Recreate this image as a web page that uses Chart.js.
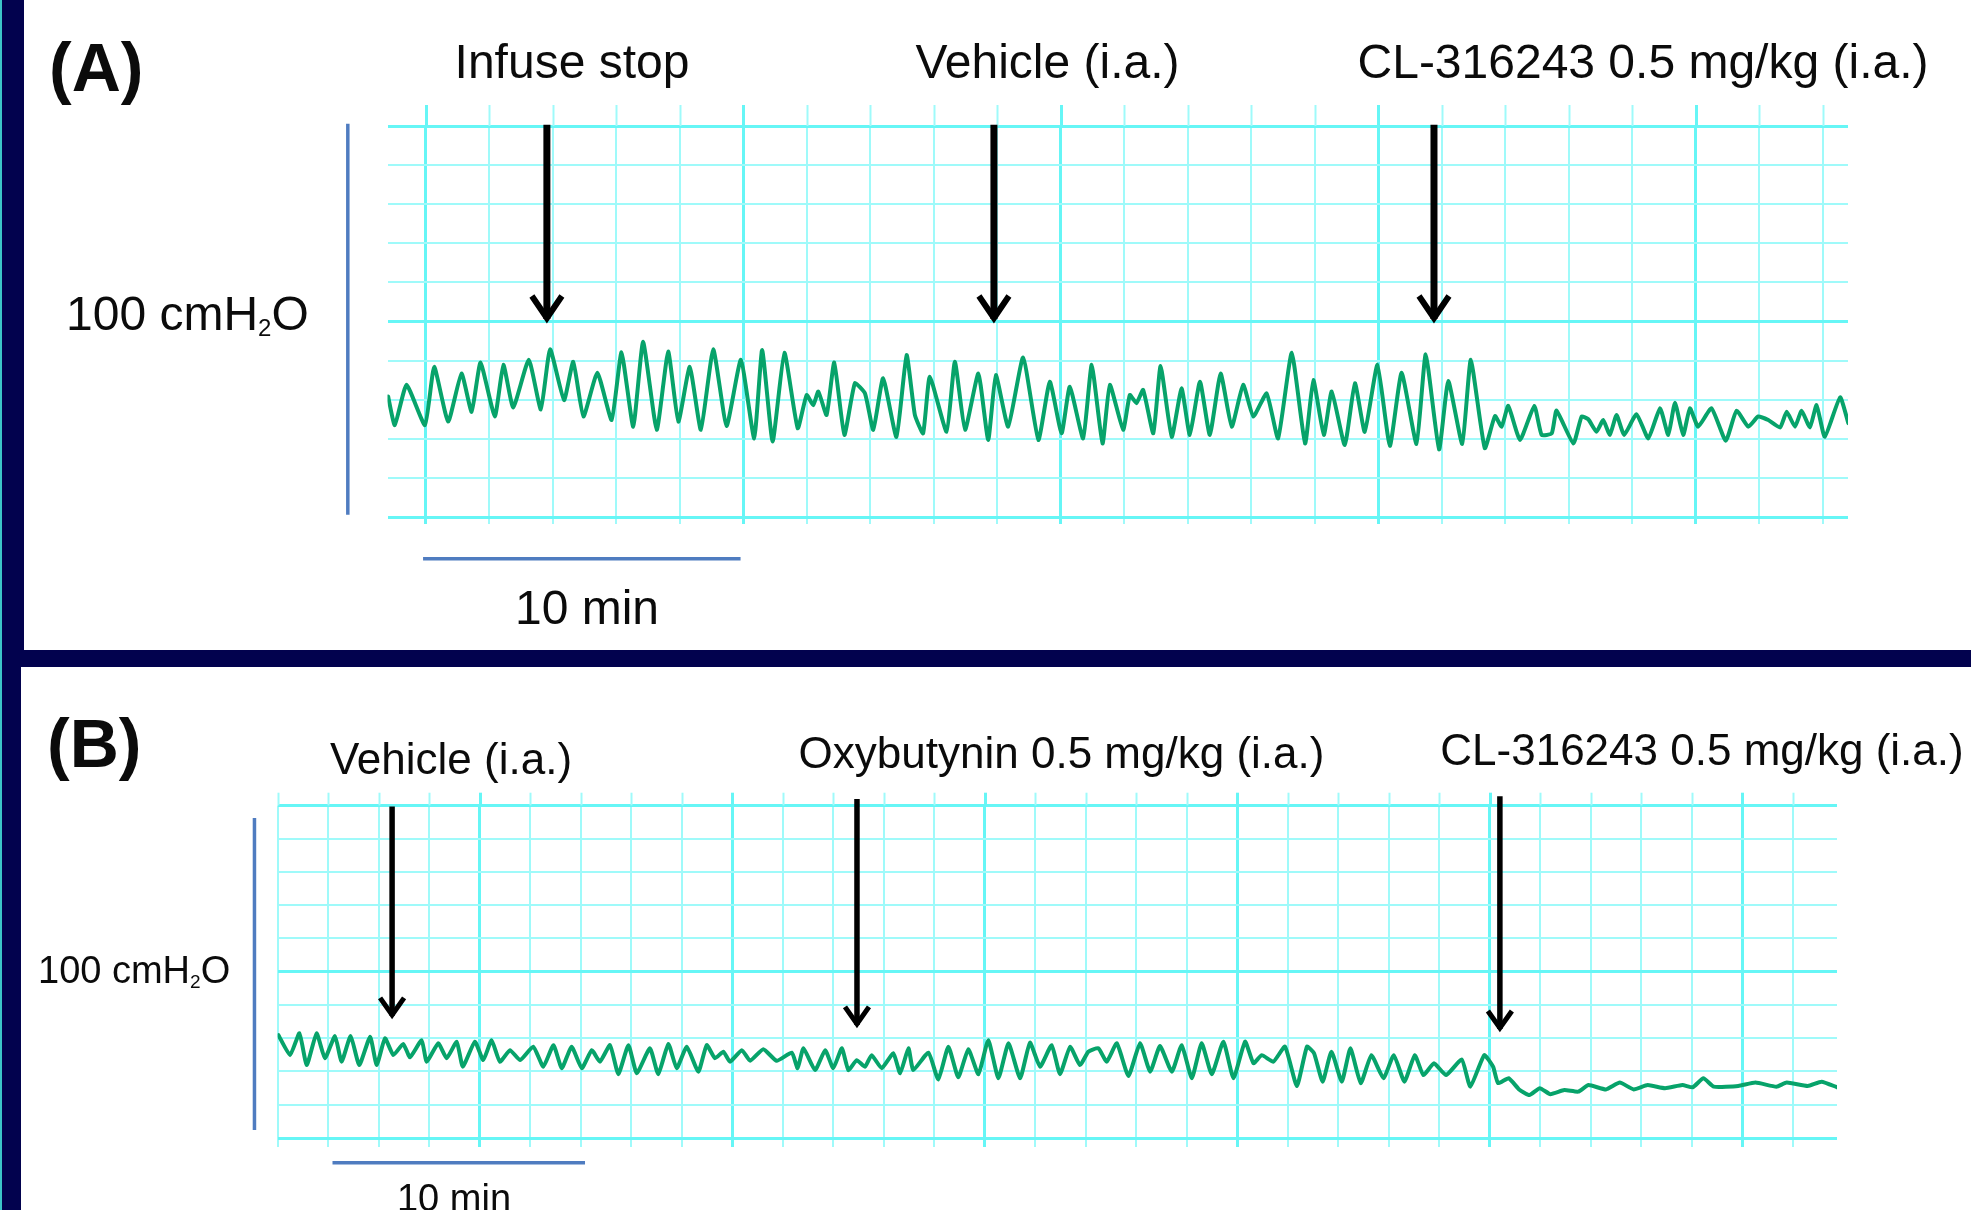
<!DOCTYPE html>
<html><head><meta charset="utf-8">
<script src="https://cdn.jsdelivr.net/npm/chart.js@4.4.1/dist/chart.umd.min.js"></script>
<style>
html,body{margin:0;padding:0;}
body{width:1971px;height:1210px;overflow:hidden;background:#02024e;position:relative;font-family:"Liberation Sans",Arial,sans-serif;color:#0b0b0b;}
.panel{position:absolute;background:#fff;}
canvas{position:absolute;left:0;}
.t{position:absolute;white-space:nowrap;line-height:1;}
.sub{font-size:0.5em;position:relative;top:0.25em;}
</style></head><body>
<div style="position:absolute;left:0;top:0;width:2px;height:1210px;background:#3cc4c8"></div>
<div class="panel" style="left:24px;top:0;width:1947px;height:650px"></div>
<div class="panel" style="left:21px;top:667px;width:1950px;height:543px"></div>
<canvas id="cA" width="1971" height="650" style="top:0"></canvas>
<canvas id="cB" width="1971" height="543" style="top:667px"></canvas>
<script>
// ---------- DATA (minutes, cmH2O) ----------
const timeA = [-1.19,-0.98,-0.61,-0.03,0.26,0.70,1.12,1.44,1.72,2.17,
 2.44,2.75,3.24,3.62,3.91,4.35,4.64,4.96,5.40,5.85,
 6.16,6.53,6.84,7.27,7.63,7.95,8.31,8.66,9.05,9.47,
 9.92,10.34,10.59,10.92,11.29,11.71,11.99,12.20,12.36,12.62,
 12.86,13.18,13.51,13.83,14.09,14.40,14.82,15.14,15.40,15.66,
 15.87,16.40,16.66,16.98,17.40,17.71,17.95,18.34,18.81,19.29,
 19.65,20.02,20.28,20.70,20.97,21.31,21.54,21.96,22.17,22.38,
 22.59,22.91,23.14,23.49,23.80,24.06,24.38,24.69,25.03,25.38,
 25.74,26.06,26.48,26.84,27.27,27.69,27.95,28.28,28.53,28.94,
 29.26,29.57,29.97,30.36,30.73,31.20,31.49,31.91,32.20,32.64,
 32.91,33.35,33.67,33.88,34.09,34.46,34.91,35.14,35.46,35.61,
 36.14,36.40,36.61,36.87,37.08,37.29,37.50,37.74,38.13,38.50,
 38.87,39.13,39.34,39.60,39.81,40.07,40.49,40.94,41.28,41.65,
 41.96,42.28,42.65,42.86,43.12,43.33,43.59,43.80,44.06,44.54,
 44.80];
const pressureA = [30.8,23.5,33.8,23.5,38.4,24.4,36.7,26.9,39.5,25.7,
 38.9,28.0,40.2,27.5,42.9,29.9,39.7,25.7,36.9,24.8,
 42.1,23.1,44.8,22.3,42.3,24.4,38.4,22.3,42.9,23.3,
 40.2,20.1,42.7,19.3,42.0,22.7,31.2,28.6,32.1,26.1,
 39.5,21.0,34.2,31.6,22.3,35.5,20.5,41.4,26.1,21.4,
 35.9,21.8,39.7,22.3,36.7,19.7,36.3,23.1,40.8,19.7,
 34.6,21.4,33.3,20.1,38.9,18.8,33.8,22.3,31.2,29.1,
 32.5,21.4,38.6,20.5,32.9,21.0,34.6,21.0,36.7,23.1,
 33.8,25.7,31.6,20.1,42.0,18.8,35.0,21.0,32.1,18.4,
 34.2,21.8,38.9,18.2,36.9,18.7,41.6,17.3,34.8,18.7,
 40.2,17.6,25.8,23.1,28.4,19.7,28.4,21.0,21.4,27.2,
 18.8,25.7,25.0,21.8,24.8,21.0,26.1,21.0,26.3,20.1,
 27.8,21.0,29.2,21.0,27.8,23.1,27.8,19.5,27.2,23.1,
 25.7,24.8,22.9,26.9,23.1,27.2,22.9,28.6,20.5,30.6,
 24.0];

const timeB = [0.03,0.49,0.86,1.15,1.54,1.87,2.27,2.53,2.89,3.23,
 3.66,3.92,4.25,4.58,4.97,5.24,5.70,5.90,6.36,6.69,
 7.09,7.33,7.81,8.14,8.47,8.80,9.20,9.60,10.12,10.52,
 10.92,11.25,11.64,12.04,12.44,12.76,13.16,13.49,13.89,14.22,
 14.74,15.07,15.47,15.80,16.20,16.66,16.99,17.32,17.65,17.91,
 18.38,18.71,19.23,19.76,20.36,20.59,20.82,21.28,21.68,22.00,
 22.34,22.60,22.93,23.26,23.52,23.92,24.38,24.65,24.98,25.17,
 25.77,26.16,26.56,26.95,27.35,27.75,28.14,28.54,28.94,29.40,
 29.79,30.19,30.65,30.98,31.38,31.77,32.10,32.50,32.83,33.23,
 33.69,34.15,34.55,34.94,35.41,35.80,36.20,36.59,36.99,37.45,
 37.85,38.31,38.64,38.97,39.43,39.89,40.36,40.76,41.04,41.38,
 41.73,42.14,42.48,42.89,43.31,43.79,44.20,44.62,45.03,45.37,
 45.79,46.27,46.89,47.23,47.78,48.13,48.33,48.75,49.16,49.57,
 49.98,50.40,50.95,51.50,51.91,52.60,53.15,53.70,54.25,54.94,
 55.63,56.04,56.46,56.87,57.84,58.52,59.35,59.76,60.59,61.14,61.75];
const pressureB = [30.4,24.0,31.0,20.8,31.0,23.0,30.1,21.9,30.1,20.8,
 29.9,20.8,29.4,24.0,27.6,23.3,28.8,21.9,27.8,23.0,
 28.3,20.3,28.3,22.4,28.8,21.9,25.6,22.4,26.7,20.3,
 27.2,19.8,26.7,19.8,25.6,21.9,27.2,17.9,27.2,18.2,
 26.2,17.9,27.6,19.8,26.7,18.7,27.2,23.0,25.1,21.9,
 25.6,22.2,25.9,22.2,24.8,19.8,26.2,19.2,25.6,19.8,
 26.2,19.2,22.4,20.3,24.0,19.8,24.6,18.2,26.2,19.2,
 24.8,16.2,26.7,16.9,25.9,17.9,28.8,16.6,27.8,16.6,
 28.0,20.3,27.2,17.9,26.7,20.8,25.1,26.2,21.9,27.8,
 17.3,27.8,18.7,26.9,18.7,27.2,16.6,27.8,17.9,28.3,
 16.6,28.3,21.4,24.0,21.9,26.7,14.1,26.7,24.6,15.5,
 25.1,15.5,26.2,15.0,24.0,16.6,24.0,15.5,24.0,17.6,
 21.4,17.6,22.6,13.9,24.0,20.3,15.0,16.6,13.0,11.2,
 13.4,11.5,12.8,12.3,14.4,13.0,15.2,13.0,14.4,13.4,
 14.4,13.7,16.6,13.9,14.1,15.2,13.9,15.2,14.1,15.5,13.7];

const arrowTimeA = [3.81, 17.89, 31.75];
const arrowTopA  = [100.3, 100.3, 100.3];
const arrowTipA  = [49.6, 49.6, 49.6];
const arrowLabelsA = ['Infuse stop', 'Vehicle (i.a.)', 'CL-316243 0.5 mg/kg (i.a.)'];

const arrowTimeB = [4.53, 22.94, 48.40];
const arrowTopB  = [103.7, 106.1, 107.0];
const arrowTipB  = [35.3, 32.4, 31.1];
const arrowLabelsB = ['Vehicle (i.a.)', 'Oxybutynin 0.5 mg/kg (i.a.)', 'CL-316243 0.5 mg/kg (i.a.)'];

const panelLetters = ['(A)', '(B)'];
const scaleBarTimeLabel = '10 min';
const scaleBarPressureLabel = '100 cmH<span class="sub">2</span>O';
const scaleBarMinutes = 10;
const scaleBarPressure = 100;

// ---------- STYLE ----------
const TRACE = '#07a36a';
const GRID_MAJOR = '#66f6f6';
const GRID_MINOR = '#9ffafa';
const BAR = '#4f7cc0';

const extras = {
  id: 'extras',
  beforeDatasetsDraw(chart, args, o) {
    const {ctx, chartArea, scales: {x, y}} = chart;
    ctx.save();
    x.ticks.forEach((t, i) => {
      const px = Math.round(x.getPixelForValue(t.value)) + 0.5;
      const maj = o.majorX(i);
      ctx.strokeStyle = maj ? GRID_MAJOR : GRID_MINOR;
      ctx.lineWidth = maj ? 3 : 2;
      ctx.beginPath(); ctx.moveTo(px, chartArea.top - o.ext); ctx.lineTo(px, chartArea.top); ctx.stroke();
    });
    ctx.strokeStyle = BAR; ctx.lineWidth = 3.5; ctx.lineCap = 'butt';
    const vx = x.getPixelForValue(o.vBarX);
    ctx.beginPath(); ctx.moveTo(vx, y.getPixelForValue(o.vBarY0)); ctx.lineTo(vx, y.getPixelForValue(o.vBarY0 + scaleBarPressure)); ctx.stroke();
    const hy = y.getPixelForValue(o.hBarY);
    ctx.beginPath(); ctx.moveTo(x.getPixelForValue(o.hBarX0), hy); ctx.lineTo(x.getPixelForValue(o.hBarX0 + scaleBarMinutes), hy); ctx.stroke();
    ctx.restore();
  },
  afterDatasetsDraw(chart, args, o) {
    const {ctx, scales: {x, y}} = chart;
    ctx.save();
    ctx.strokeStyle = '#000'; ctx.lineJoin = 'miter'; ctx.lineCap = 'butt';
    o.arrT.forEach((t, i) => {
      const px = x.getPixelForValue(t);
      const top = y.getPixelForValue(o.arrTop[i]);
      const tip = y.getPixelForValue(o.arrTip[i]);
      ctx.lineWidth = o.aw;
      ctx.beginPath(); ctx.moveTo(px, top); ctx.lineTo(px, tip - 4); ctx.stroke();
      ctx.lineWidth = o.hwid;
      ctx.beginPath();
      ctx.moveTo(px - o.hw, tip - o.hh); ctx.lineTo(px, tip - 5); ctx.lineTo(px + o.hw, tip - o.hh); ctx.stroke();
    });
    ctx.restore();
  }
};

function makePanel(id, times, pres, cfg) {
  const ctx = document.getElementById(id).getContext('2d');
  return new Chart(ctx, {
    type: 'line',
    data: { datasets: [{ data: times.map((t, i) => ({x: t, y: pres[i]})), borderColor: TRACE, borderWidth: cfg.lw,
      borderJoinStyle: 'round', borderCapStyle: 'round',
      pointRadius: 0, tension: 0.15, fill: false }] },
    options: {
      responsive: false, animation: false, devicePixelRatio: 1,
      layout: { padding: cfg.pad },
      plugins: { legend: {display: false}, tooltip: {enabled: false}, extras: cfg.extras },
      scales: {
        x: { type: 'linear', min: cfg.xMin, max: cfg.xMax,
          afterBuildTicks: s => { const a = []; for (let v = 0; v <= cfg.xMax; v += 2) a.push({value: v}); s.ticks = a; },
          ticks: {display: false, autoSkip: false},
          grid: { drawTicks: true, tickLength: cfg.tickLen,
            color: c => cfg.extras.majorX(c.index) ? GRID_MAJOR : GRID_MINOR,
            lineWidth: c => cfg.extras.majorX(c.index) ? 3 : 2 },
          border: {display: false} },
        y: { type: 'linear', min: cfg.yMin, max: cfg.yMax,
          afterBuildTicks: s => { const a = []; for (let i = 0; i <= 10; i++) a.push({value: cfg.yMin + i * (cfg.yMax - cfg.yMin) / 10}); s.ticks = a; },
          ticks: {display: false, autoSkip: false},
          grid: { drawTicks: false,
            color: c => c.index % 5 === 0 ? GRID_MAJOR : GRID_MINOR,
            lineWidth: c => c.index % 5 === 0 ? 3 : 2 },
          border: {display: false} }
      }
    },
    plugins: [extras]
  });
}

makePanel('cA', timeA, pressureA, {
  lw: 4, xMin: -1.21, xMax: 44.79, yMin: 0, yMax: 100, tickLen: 7,
  pad: {left: 387.5, right: 123, top: 126, bottom: 126},
  extras: { majorX: i => i % 5 === 0, ext: 21, vBarX: -2.46, vBarY0: 0.6, hBarX0: -0.09, hBarY: -10.7,
    arrT: arrowTimeA, arrTop: arrowTopA, arrTip: arrowTipA, aw: 7, hwid: 6, hw: 15, hh: 27 }
});
makePanel('cB', timeB, pressureB, {
  lw: 4, xMin: 0, xMax: 61.75, yMin: -2.56, yMax: 104.04, tickLen: 9,
  pad: {left: 277.7, right: 134, top: 138.4, bottom: 63},
  extras: { majorX: i => i % 5 === 4, ext: 12.7, vBarX: -0.92, vBarY0: 0, hBarX0: 2.17, hBarY: -10.5,
    arrT: arrowTimeB, arrTop: arrowTopB, arrTip: arrowTipB, aw: 5.5, hwid: 5, hw: 12, hh: 22 }
});

// ---------- TEXT ----------
function addText(html, x, baseline, fs, align, bold) {
  const d = document.createElement('div');
  d.className = 't';
  d.innerHTML = html;
  d.style.fontSize = fs + 'px';
  d.style.top = (baseline - 0.8465 * fs) + 'px';
  d.style.left = x + 'px';
  if (bold) d.style.fontWeight = 'bold';
  if (align === 'center') d.style.transform = 'translateX(-50%)';
  document.body.appendChild(d);
}
addText(panelLetters[0], 49, 91, 68, 'left', true);
addText(panelLetters[1], 47, 767, 68, 'left', true);
const labelPosA = [[572, 79], [1047.5, 79], [1643, 79]];
const labelPosB = [[451, 774], [1061.5, 768], [1702, 765]];
arrowLabelsA.forEach((s, i) => addText(s, labelPosA[i][0], labelPosA[i][1], 48, 'center'));
arrowLabelsB.forEach((s, i) => addText(s, labelPosB[i][0], labelPosB[i][1], 44, 'center'));
addText(scaleBarPressureLabel, 66, 331, 48, 'left');
addText(scaleBarPressureLabel, 38, 983, 38, 'left');
addText(scaleBarTimeLabel, 587, 625, 48, 'center');
addText(scaleBarTimeLabel, 454, 1211, 38, 'center');
</script>
</body></html>
